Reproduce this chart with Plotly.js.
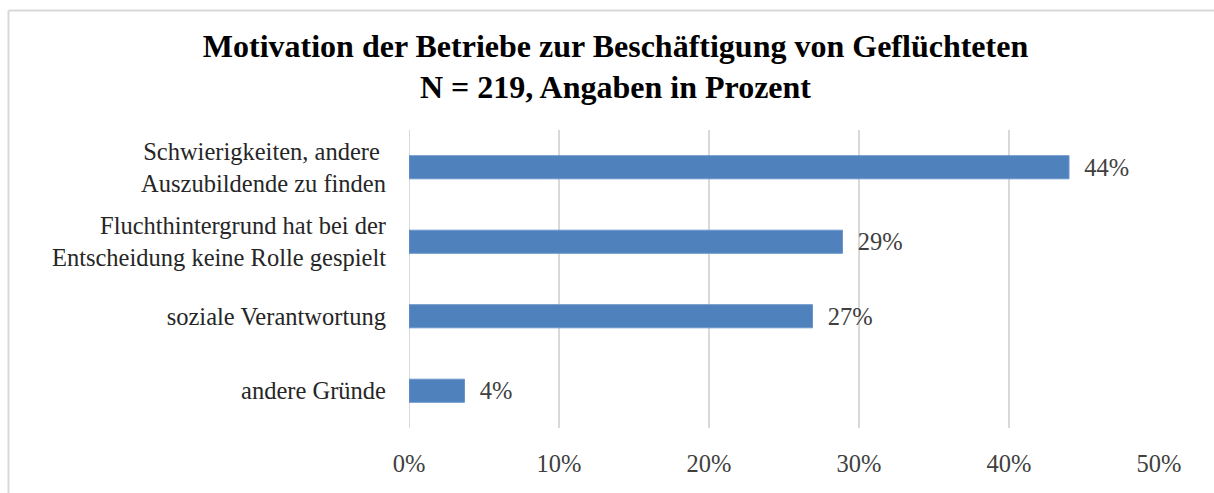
<!DOCTYPE html>
<html>
<head>
<meta charset="utf-8">
<script src="https://cdn.plot.ly/plotly-3.0.1.min.js"></script>
<style>
html,body{margin:0;padding:0;background:#fff;}
#chart{width:1214px;height:493px;}
</style>
</head>
<body>
<div id="chart"></div>
<script>
// Categories (top to bottom as in the reference)
var categories = [
  "Schwierigkeiten, andere <br>Auszubildende zu finden",
  "Fluchthintergrund hat bei der<br>Entscheidung keine Rolle gespielt",
  "soziale Verantwortung",
  "andere Gründe"
];
// Values in percent
var values = [44.0, 28.9, 26.9, 3.7];
var tickVals = [0, 10, 20, 30, 40, 50];
var tickText = ["0%", "10%", "20%", "30%", "40%", "50%"];

var serif = "Liberation Serif, Times New Roman, serif";

var trace = {
  type: "bar",
  orientation: "h",
  y: categories,
  x: values,
  marker: {color: "#4F81BD", line: {color: "#6a95cb", width: 1}},
  text: values.map(function(v){ return "\u2002" + Math.round(v) + "%"; }),
  textposition: "outside",
  constraintext: "none",
  textfont: {family: serif, size: 24.5, color: "#404040"},
  outsidetextfont: {family: serif, size: 24.5, color: "#404040"},
  cliponaxis: false,
  hoverinfo: "skip"
};

var layout = {
  width: 1214,
  height: 493,
  margin: {l: 409, r: 55, t: 130, b: 65},
  paper_bgcolor: "#ffffff",
  plot_bgcolor: "#ffffff",
  showlegend: false,
  bargap: 0.69,
  title: {
    text: "<b>Motivation der Betriebe zur Beschäftigung von Geflüchteten<br>N = 219, Angaben in Prozent</b>",
    font: {family: serif, size: 32, color: "#000000"},
    x: 0.507, xref: "container", xanchor: "center",
    y: 0.885, yref: "container", yanchor: "top"
  },
  xaxis: {
    range: [0, 50],
    tickvals: tickVals,
    ticktext: tickText,
    showgrid: true,
    gridcolor: "#d9d9d9",
    gridwidth: 2,
    zeroline: false,
    showline: false,
    ticks: "",
    ticklabelstandoff: 18,
    tickfont: {family: serif, size: 24.5, color: "#404040"},
    fixedrange: true
  },
  yaxis: {
    categoryorder: "array",
    categoryarray: categories.slice().reverse(),
    autorange: true,
    showgrid: false,
    zeroline: false,
    showline: false,
    ticks: "",
    ticklabelstandoff: 22,
    tickfont: {family: serif, size: 24.5, color: "#262626"},
    fixedrange: true
  },
  shapes: [
    {type: "line", xref: "paper", yref: "paper",
     x0: (8.5 - 409) / 750, x1: 1.2, y0: 1 + (130 - 10.5) / 298, y1: 1 + (130 - 10.5) / 298,
     line: {color: "#d9d9d9", width: 2}},
    {type: "line", xref: "paper", yref: "paper",
     x0: (8.5 - 409) / 750, x1: (8.5 - 409) / 750, y0: 1 + (130 - 10.5) / 298, y1: -0.4,
     line: {color: "#d9d9d9", width: 2}},
    {type: "line", xref: "x", yref: "paper",
     x0: 0, x1: 0, y0: 0, y1: 1,
     line: {color: "#d9d9d9", width: 2}, layer: "below"}
  ]
};

Plotly.newPlot("chart", [trace], layout, {displayModeBar: false, staticPlot: true});
</script>
</body>
</html>
